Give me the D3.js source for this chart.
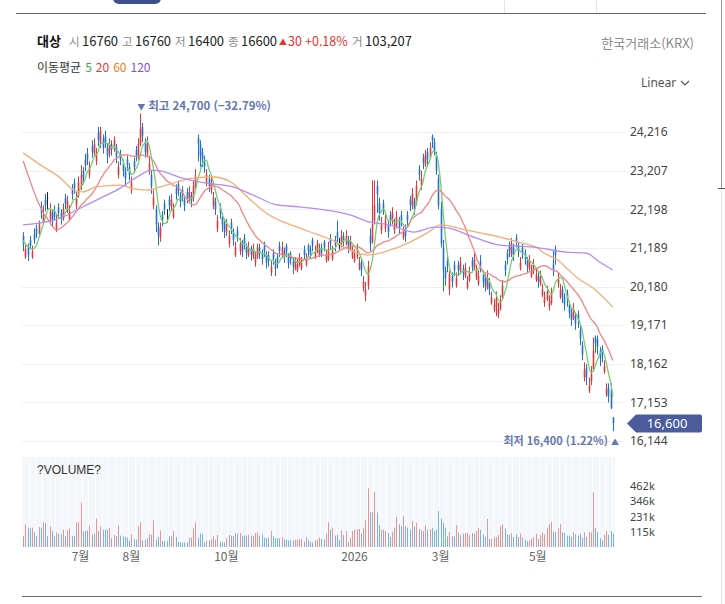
<!DOCTYPE html>
<html lang="ko">
<head>
<meta charset="utf-8">
<title>대상</title>
<script src="https://cdn.jsdelivr.net/npm/d3@7"></script>
<style>
  html, body { margin: 0; padding: 0; background: #fff; }
  svg { display: block; font-family: "Noto Sans CJK KR", "Noto Sans", sans-serif; }
</style>
</head>
<body>
<div id="chart"></div>
<script>
// ---- values ----
const stockName = '대상';
const market = '한국거래소(KRX)';
const dayChange = '30';
const dayChangePct = '+0.18%';
const dayVolumeText = '103,207';

const maPeriods = [5, 20, 60, 120];
const maLineColors = ['#72cf72', '#f08585', '#f5ae78', '#b58cf3'];
const maLabelColors = ['#2fa84f', '#e53935', '#ef7d22', '#8b4fe0'];

const priceTicks = [16144, 17153, 18162, 19171, 20180, 21189, 22198, 23207, 24216];
const volumeTicks = [115, 231, 346, 462];
const monthDays = [26, 49, 92, 150, 189, 233];
const monthLabels = ['7월', '8월', '10월', '2026', '3월', '5월'];

// closes of the days just before the visible window (seed for the short averages)
const priorCloses = [24300,24500,24400,24450,24500,24600,24400,24550,24450,24100,
  23900,23950,23850,23300,23000,21600,21300,21450,21250];

const opens = [21500,20950,21200,21400,20950,21550,21700,21550,22250,21850,
  22450,22500,21950,22100,22150,21700,22250,22100,21950,22500,
  22200,21950,22750,22900,22300,22550,22800,23200,23500,23650,
  23100,23850,23650,23450,24200,23900,24050,24100,23800,23650,
  23900,23750,23800,23100,23650,23400,23200,23500,23300,22700,
  23450,23750,23550,23900,24350,23950,23650,23200,23100,22300,
  22200,21750,21450,22050,22350,21950,22450,22250,22000,22750,
  22850,22550,22700,22450,22650,22450,22550,22500,22750,24050,
  23900,23700,23450,22900,23000,22700,22300,22400,21700,22250,
  22000,21850,21600,21300,21850,21600,21000,21650,21100,21300,
  21450,21200,21000,21200,20950,20800,20950,21200,21050,21250,
  21000,21000,20550,21050,20800,20950,21250,21000,21100,21250,
  20950,21050,20850,20650,20600,20750,20650,21150,20750,21250,
  21150,21400,20950,21100,21000,21200,21350,20850,20900,21450,
  20900,21400,21600,21300,21300,21500,21300,21400,21150,20950,
  20850,20950,20650,20800,20150,19950,20200,21500,21350,21900,
  22800,22350,21650,22350,21700,21800,22050,21900,21650,21750,
  21900,22050,21450,21700,22050,22450,22300,22400,22350,23250,
  22800,23550,23350,23700,23550,24100,23950,23600,23000,22200,
  21200,20600,20850,20100,20450,20750,20200,20750,20600,20650,
  20450,20150,20350,20850,20650,20400,20250,20850,20500,20400,
  20150,20300,19750,19550,19650,19450,19600,19900,20750,21050,
  21250,21000,21200,21450,21250,20650,21200,21050,20850,20650,
  20450,20550,20350,20450,20250,19950,19750,19850,19650,19750,
  20750,21150,20250,19900,20100,19900,20000,19700,19500,19350,
  19400,19450,19050,18650,17800,18050,17450,17700,18000,18850,
  18800,18500,18550,17950,17350,17550,17500,16760];

const highs = [21600,21300,21300,21500,21250,21700,21800,21900,22400,22300,
  22600,22650,22350,22200,22300,22050,22350,22200,22350,22600,
  22550,22300,22850,23000,22650,23050,23350,23300,23650,23800,
  23450,24000,24050,23800,24350,24350,24150,24250,23900,24050,
  24000,24100,23900,23450,23750,23500,23300,23600,23400,23050,
  23550,23850,24050,24700,24450,24050,24100,23600,23200,22700,
  22300,21850,21850,22150,22450,22200,22550,22600,22350,22850,
  22950,22650,22800,22550,22750,22800,22650,22950,23250,24150,
  24000,23800,23600,23250,23100,23050,22650,22500,22050,22350,
  22100,21950,21950,21650,21950,21700,21350,21750,21450,21400,
  21550,21300,21350,21250,21300,21100,21300,21300,21150,21350,
  21100,21100,20850,21150,20900,21050,21350,21350,21200,21300,
  21050,21100,20950,20950,20900,21050,20950,21250,21050,21300,
  21250,21450,21250,21400,21300,21300,21400,21150,21350,21550,
  21250,21500,21900,21450,21650,21600,21650,21500,21500,21250,
  21150,21300,20950,20900,20450,20300,20850,21700,22950,22950,
  22950,22500,22000,22450,22050,21900,22150,22250,21950,22150,
  22000,22150,21750,21800,22150,22550,22750,22500,22950,23350,
  23200,23650,23750,23800,23950,24150,24050,23700,23100,22400,
  21400,20700,20950,20600,20550,20850,20550,20850,20950,20750,
  20800,20450,20700,20950,21050,20750,20600,21000,20600,20500,
  20600,20400,20050,19850,20050,19750,19950,20350,20850,21150,
  21350,21450,21300,21550,21350,20950,21300,21150,20950,21000,
  20750,20900,20650,20550,20600,20250,20050,20200,19950,20150,
  21100,21250,20550,20250,20200,20000,20100,19800,19600,19750,
  19500,19550,19150,18750,18200,18150,17800,18100,18850,18900,
  18900,18600,18650,18250,17650,17650,17650,16760];

const lows = [21100,20900,20850,21150,20900,21300,21450,21500,21950,21800,
  22150,22200,21850,21750,21900,21600,21950,21800,21900,22200,
  22100,21900,22450,22600,22200,22500,22700,22850,23200,23350,
  23000,23550,23600,23350,23850,23800,23650,23800,23400,23550,
  23600,23700,23400,23000,23350,23050,22800,23200,22950,22600,
  23150,23450,23500,23850,23950,23550,23550,23100,22600,22200,
  21600,21250,21350,21750,22050,21850,22150,22150,21950,22450,
  22550,22250,22400,22150,22350,22350,22250,22400,22700,23450,
  23300,23300,23150,22800,22650,22600,22200,22050,21600,21950,
  21600,21450,21500,21200,21550,21250,20950,21350,21000,20950,
  21150,20900,20950,20850,20900,20700,20900,20900,20750,20950,
  20650,20700,20450,20750,20450,20650,20950,20950,20800,20950,
  20650,20750,20500,20600,20550,20700,20600,20900,20700,20950,
  20900,21100,20900,21050,20950,20950,21100,20800,20850,21150,
  20850,21100,21300,21150,21200,21200,21250,21050,21100,20900,
  20800,20900,20600,20450,20050,19800,20100,21100,21300,21800,
  22100,21900,21550,22050,21600,21450,21750,21800,21550,21700,
  21550,21750,21400,21350,21750,22150,22200,22050,22300,22950,
  22700,23250,23300,23350,23500,23800,23600,23100,22200,21200,
  20050,20200,20550,19950,20150,20450,20150,20450,20500,20350,
  20400,20100,20300,20550,20600,20350,20200,20550,20150,20050,
  20100,19950,19700,19500,19400,19350,19550,19850,20450,20750,
  20950,20950,20850,21200,20950,20600,20900,20750,20550,20600,
  20400,20500,20300,20150,20200,19900,19650,19800,19550,19700,
  20450,20750,20150,19850,19750,19550,19650,19350,19150,19300,
  19050,19100,18650,18250,17700,17600,17400,17600,17950,18450,
  18400,18100,18200,17900,17300,17150,16980,16400];

const closes = [21300,21150,21000,21250,21100,21400,21550,21800,22100,22050,
  22300,22500,22150,21900,22000,21850,22100,21950,22200,22350,
  22400,22150,22600,22750,22500,22900,23100,23000,23350,23500,
  23300,23700,23900,23650,24000,24250,23800,23950,23600,23900,
  23750,24000,23550,23300,23500,23200,23000,23350,23100,22900,
  23300,23600,23900,24300,24100,23700,23900,23400,22800,22500,
  21800,21500,21700,21900,22200,21950,22300,22450,22200,22600,
  22700,22400,22550,22300,22500,22650,22400,22800,23050,23900,
  23600,23500,23300,23100,22800,22900,22500,22200,21900,22100,
  21800,21650,21800,21500,21700,21400,21200,21500,21300,21100,
  21300,21050,21200,21000,21150,20950,21200,21050,20900,21100,
  20800,20850,20700,20900,20650,20800,21100,21200,20950,21100,
  20800,20900,20700,20850,20750,20950,20800,21000,20900,21100,
  21000,21250,21100,21300,21150,21050,21200,21000,21150,21300,
  21100,21250,21450,21300,21500,21350,21500,21200,21350,21100,
  21000,21150,20800,20600,20300,20100,20700,21300,21800,22300,
  22600,22100,21800,22200,21900,21600,21900,22100,21800,22000,
  21700,21900,21600,21500,21900,22300,22600,22200,22800,23100,
  23000,23400,23600,23500,23800,24000,23700,23200,22300,21300,
  20600,20400,20700,20500,20300,20600,20400,20600,20800,20500,
  20650,20300,20550,20700,20900,20600,20450,20700,20300,20200,
  20400,20100,19900,19700,19900,19600,19800,20200,20600,20900,
  21100,21300,21000,21350,21100,20800,21050,20900,20700,20850,
  20600,20750,20500,20300,20450,20100,19900,20050,19800,20000,
  20600,21000,20400,20100,19900,19700,19850,19500,19300,19600,
  19200,19300,18800,18400,18000,17800,17600,17900,18500,18700,
  18600,18300,18400,18100,17500,17300,17000,16600];

// volume, thousands of shares
const volumes = [81,172,146,141,146,111,81,151,146,187,
  182,81,156,121,81,111,101,96,131,81,
  126,141,81,86,187,187,336,116,121,126,
  161,91,101,215,121,156,131,131,131,146,
  66,91,81,161,86,81,76,71,50,96,
  61,56,156,187,50,56,66,96,91,202,
  56,76,126,45,45,45,81,81,121,76,
  38,35,35,35,35,71,71,141,187,71,
  101,101,35,50,50,61,81,56,91,40,
  35,35,66,91,86,81,106,101,106,86,
  86,86,91,86,86,106,111,86,96,71,
  66,71,121,81,66,66,66,76,56,56,
  50,50,50,56,56,56,61,40,76,50,
  40,35,50,56,71,61,56,101,187,131,
  146,86,91,50,126,91,121,35,66,121,
  131,136,136,101,141,202,446,262,265,415,
  262,166,131,131,121,106,76,116,146,227,
  172,156,232,156,146,131,197,156,182,136,
  131,121,164,131,136,146,121,131,272,215,
  182,146,81,111,81,81,166,111,91,101,
  106,106,91,106,101,121,146,131,96,76,
  212,61,61,76,76,91,156,172,141,96,
  91,106,76,96,76,101,71,56,45,50,
  61,76,101,61,91,111,96,146,176,192,
  116,116,141,172,111,106,86,86,76,111,
  96,86,101,71,111,76,111,111,415,146,
  111,66,50,91,121,91,121,103];

// longer averages at these trading days
const ma60Days = [0, 8, 17, 23, 27, 33, 44, 50, 56, 62, 65, 77, 86, 94, 103, 110, 118, 125, 134, 140,
  148, 156, 166, 170, 183, 189, 201, 207, 216, 224, 233, 236, 242, 247, 251, 258, 267];
const ma60Values = [23670, 23350, 23010, 22700, 22650, 22780, 22830, 22730, 22700, 22780, 22830, 23010, 23040,
  22910, 22440, 22100, 21860, 21710, 21520, 21390, 21130, 21000, 21130, 21210, 21580, 21790, 21650, 21580,
  21470, 21340, 21180, 21050, 20870, 20610, 20400, 20140, 19640];
const ma120Days = [0, 8, 17, 26, 35, 44, 53, 58, 62, 72, 83, 95, 104, 115, 125, 134, 148, 157, 166, 177,
  186, 192, 204, 216, 231, 246, 255, 261, 267];
const ma120Values = [21790, 21840, 21970, 22230, 22490, 22750, 23090, 23220, 23200, 23010, 22880, 22780,
  22570, 22310, 22260, 22200, 22050, 21860, 21790, 21600, 21730, 21710, 21470, 21260, 21210, 21080, 21050,
  20820, 20610];

// ---- chart ----
const width = 725;
const height = 604;
const upColor = '#dc3a3c';
const downColor = '#2470d0';
const N = closes.length;

const svg = d3.select('#chart')
  .append('svg')
  .attr('width', width)
  .attr('height', height);

const x = d3.scaleBand().domain(d3.range(N)).range([22, 614]);
const cx = i => x(i) + x.bandwidth() / 2;
const y = d3.scaleLinear().domain([16144, 24216]).range([441, 132]);
const yVol = d3.scaleLinear().domain([0, 462]).range([547, 486]);

const candles = closes.map((c, i) => ({i: i, o: opens[i], h: highs[i], l: lows[i], c: c, v: volumes[i]}));
const candleColor = d => d.c > d.o ? upColor : (d.c < d.o ? downColor : '#222');

// page chrome
svg.append('rect').attr('x', 113).attr('y', -8).attr('width', 48).attr('height', 12)
  .attr('rx', 6).attr('fill', '#3c4f8e');
svg.append('line').attr('x1', 16).attr('x2', 706).attr('y1', 13.5).attr('y2', 13.5)
  .attr('stroke', '#666');
[504, 596].forEach(v => svg.append('line').attr('x1', v + 0.5).attr('x2', v + 0.5)
  .attr('y1', 0).attr('y2', 13).attr('stroke', '#e4e4e4'));
svg.append('line').attr('x1', 721.5).attr('x2', 721.5).attr('y1', 0).attr('y2', 188)
  .attr('stroke', '#9a9a9a');
svg.append('line').attr('x1', 718).attr('x2', 725).attr('y1', 188.5).attr('y2', 188.5)
  .attr('stroke', '#555');
svg.append('line').attr('x1', 721.5).attr('x2', 721.5).attr('y1', 190).attr('y2', height)
  .attr('stroke', '#e2e2e2');
svg.append('line').attr('x1', 22).attr('x2', 702).attr('y1', 596.5).attr('y2', 596.5)
  .attr('stroke', '#6a6a6a');

// header line: label / value pairs placed where the reference has them
const last = candles[N - 1];
const header = svg.append('text').attr('y', 46).attr('font-size', 13);
header.append('tspan').attr('x', 37).attr('font-weight', 'bold').attr('fill', '#111').text(stockName);
const headerItems = [
  ['시', last.o, 69], ['고', last.h, 122], ['저', last.l, 175], ['종', last.c, 228]
];
headerItems.forEach(p => {
  header.append('tspan').attr('x', p[2]).attr('fill', '#8a8a8a').attr('font-size', 11.5).text(p[0]);
  header.append('tspan').attr('x', p[2] + 13).attr('fill', '#222').text(p[1]);
});
header.append('tspan').attr('x', 279).attr('fill', '#e0342f').attr('font-size', 8).attr('dy', -1).text('▲');
header.append('tspan').attr('x', 288).attr('dy', 1).attr('fill', '#e0342f').attr('font-size', 12.5).text(dayChange);
header.append('tspan').attr('x', 305).attr('fill', '#e0342f').attr('font-size', 12.5).text(dayChangePct);
header.append('tspan').attr('x', 352).attr('fill', '#8a8a8a').attr('font-size', 11.5).text('거');
header.append('tspan').attr('x', 365).attr('fill', '#222').text(dayVolumeText);

svg.append('text').attr('x', 694).attr('y', 48).attr('text-anchor', 'end')
  .attr('font-size', 13).attr('fill', '#8a8a8a').text(market);

// moving average legend
const legend = svg.append('text').attr('x', 37).attr('y', 72).attr('font-size', 12);
legend.append('tspan').attr('fill', '#333').text('이동평균');
maPeriods.forEach((p, k) => legend.append('tspan').attr('dx', 4)
  .attr('fill', maLabelColors[k]).text(p));

svg.append('text').attr('x', 641).attr('y', 87).attr('font-size', 12)
  .attr('font-family', 'Noto Sans, sans-serif').attr('fill', '#555').text('Linear');
svg.append('path').attr('d', 'M681,81 L685,85 L689,81').attr('fill', 'none')
  .attr('stroke', '#555').attr('stroke-width', 1.2);

// price grid
svg.append('g')
  .selectAll('line')
  .data(priceTicks)
  .join('line')
  .attr('x1', 22).attr('x2', 625)
  .attr('y1', d => Math.round(y(d)) + 0.5).attr('y2', d => Math.round(y(d)) + 0.5)
  .attr('stroke', '#eef0f4');

// price axis
const priceAxis = svg.append('g')
  .attr('transform', 'translate(622,0)')
  .call(d3.axisRight(y).tickValues(priceTicks).tickFormat(d3.format(',')).tickSize(0).tickPadding(8));
priceAxis.select('.domain').remove();
priceAxis.selectAll('text').attr('font-size', 12).attr('fill', '#444')
  .attr('font-family', 'Noto Sans, sans-serif');

// candles
const candleG = svg.append('g');
candleG.selectAll('line')
  .data(candles)
  .join('line')
  .attr('x1', d => Math.round(cx(d.i)) + 0.5).attr('x2', d => Math.round(cx(d.i)) + 0.5)
  .attr('y1', d => y(d.h)).attr('y2', d => y(d.l))
  .attr('stroke', candleColor).attr('stroke-width', 1);
candleG.selectAll('rect')
  .data(candles)
  .join('rect')
  .attr('x', d => Math.round(cx(d.i)) + 0.5 - 0.8)
  .attr('width', 1.6)
  .attr('y', d => y(Math.max(d.o, d.c)))
  .attr('height', d => Math.max(1, Math.abs(y(d.o) - y(d.c))))
  .attr('fill', candleColor);

// moving averages
const allCloses = priorCloses.concat(closes);
const P = priorCloses.length;
const movingAverage = n => closes.map((c, i) => ({i: i, v: d3.mean(allCloses.slice(P + i - n + 1, P + i + 1))}));
const maSeries = [
  movingAverage(maPeriods[0]),
  movingAverage(maPeriods[1]),
  ma60Days.map((d, k) => ({i: d, v: ma60Values[k]})),
  ma120Days.map((d, k) => ({i: d, v: ma120Values[k]}))
];
const maLine = d3.line().x(d => cx(d.i)).y(d => y(d.v)).curve(d3.curveMonotoneX);
svg.append('g')
  .attr('fill', 'none')
  .attr('stroke-width', 1.3)
  .selectAll('path')
  .data(maSeries)
  .join('path')
  .attr('stroke', (d, k) => maLineColors[k])
  .attr('d', maLine);

// high / low marks
const hiIdx = d3.maxIndex(highs);
const loIdx = d3.minIndex(lows);
const pct = d3.format('.2f');
const hiText = svg.append('text')
  .attr('x', cx(hiIdx) - 3).attr('y', y(highs[hiIdx]) - 3)
  .attr('font-size', 11.5).attr('fill', '#6577ae').attr('font-weight', 'bold');
hiText.append('tspan').attr('font-size', 8).text('▼');
hiText.append('tspan').attr('dx', 3)
  .text('최고 ' + d3.format(',')(highs[hiIdx]) + ' (' + pct((last.c - highs[hiIdx]) / highs[hiIdx] * 100) + '%)');
const loText = svg.append('text')
  .attr('x', cx(loIdx) + 6).attr('y', y(lows[loIdx]) + 14).attr('text-anchor', 'end')
  .attr('font-size', 11).attr('fill', '#6577ae').attr('font-weight', 'bold');
loText.append('tspan')
  .text('최저 ' + d3.format(',')(lows[loIdx]) + ' (' + pct((last.c - lows[loIdx]) / lows[loIdx] * 100) + '%) ');
loText.append('tspan').attr('font-size', 8).text('▲');

// last price tag
const ty = y(last.c);
svg.append('path')
  .attr('d', `M627,${ty} L636,${ty - 9} L700,${ty - 9} Q702,${ty - 9} 702,${ty - 7} L702,${ty + 7} Q702,${ty + 9} 700,${ty + 9} L636,${ty + 9} Z`)
  .attr('fill', '#4a5c9c');
svg.append('text').attr('x', 667).attr('y', ty + 4.5).attr('text-anchor', 'middle')
  .attr('font-size', 13).attr('fill', '#fff').attr('font-family', 'Noto Sans, sans-serif')
  .text(d3.format(',')(last.c));

// volume pane
svg.append('rect').attr('x', 22).attr('y', 457).attr('width', 593).attr('height', 90)
  .attr('fill', '#f3f6fb');
svg.append('g')
  .selectAll('line')
  .data(d3.range(0, N, 3))
  .join('line')
  .attr('x1', d => Math.round(x(d)) + 0.5).attr('x2', d => Math.round(x(d)) + 0.5)
  .attr('y1', 457).attr('y2', 547)
  .attr('stroke', '#fbfcfe');
svg.append('text').attr('x', 37).attr('y', 474).attr('font-size', 12)
  .attr('font-family', 'Liberation Sans, Arial, sans-serif').attr('fill', '#333').text('?VOLUME?');
svg.append('g')
  .selectAll('rect')
  .data(candles)
  .join('rect')
  .attr('x', d => Math.round(cx(d.i)))
  .attr('width', 1)
  .attr('y', d => yVol(d.v))
  .attr('height', d => yVol(0) - yVol(d.v))
  .attr('fill', d => d.c > d.o ? '#e99594' : '#7db1e4');

const volAxis = svg.append('g')
  .attr('transform', 'translate(622,0)')
  .call(d3.axisRight(yVol).tickValues(volumeTicks).tickFormat(d => d + 'k').tickSize(0).tickPadding(8));
volAxis.select('.domain').remove();
volAxis.selectAll('text').attr('font-size', 11).attr('fill', '#444')
  .attr('font-family', 'Noto Sans, sans-serif');

// month axis
const monthAxis = svg.append('g')
  .attr('transform', 'translate(0,547)')
  .call(d3.axisBottom(x).tickValues(monthDays).tickFormat((d, k) => monthLabels[k]).tickSize(0).tickPadding(5));
monthAxis.select('.domain').remove();
monthAxis.selectAll('text').attr('font-size', 12).attr('fill', '#666')
  .attr('font-family', 'Noto Sans CJK KR, sans-serif');
</script>
</body>
</html>
